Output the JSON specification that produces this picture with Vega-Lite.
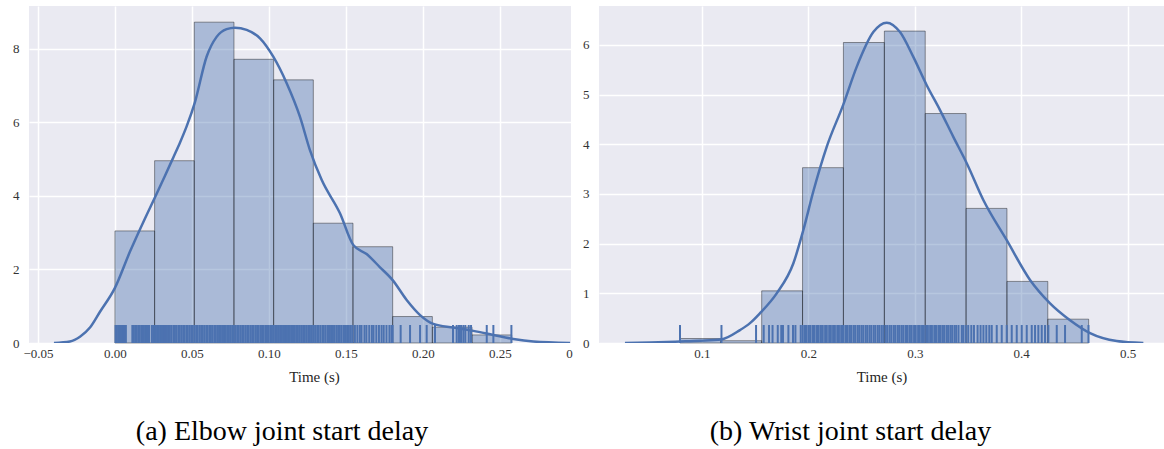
{
  "$schema": "https://vega.github.io/schema/vega-lite/v6.json",
  "background": "white",
  "padding": {"left": 12, "top": 6, "right": 0, "bottom": 0},
  "config": {
    "view": {"fill": "#EAEAF2", "stroke": null},
    "axis": {
      "domain": false,
      "ticks": false,
      "gridColor": "white",
      "gridWidth": 1.5,
      "labelFont": "Liberation Serif",
      "labelFontSize": 13,
      "labelColor": "#333333",
      "labelFlush": false,
      "labelOverlap": false,
      "titleFont": "Liberation Serif",
      "titleFontSize": 15,
      "titleFontWeight": "normal",
      "titleColor": "#262626"
    },
    "axisX": {"labelPadding": 4, "titlePadding": 9},
    "axisY": {"labelPadding": 10},
    "title": {
      "font": "Liberation Serif",
      "fontSize": 28,
      "fontWeight": "normal",
      "color": "black",
      "orient": "bottom",
      "anchor": "middle",
      "offset": 34
    }
  },
  "datasets": {
    "elbowBins": [
      {"lo": 0.0, "hi": 0.02576, "density": 3.05},
      {"lo": 0.02576, "hi": 0.05152, "density": 4.96},
      {"lo": 0.05152, "hi": 0.07728, "density": 8.73},
      {"lo": 0.07728, "hi": 0.10304, "density": 7.72},
      {"lo": 0.10304, "hi": 0.1288, "density": 7.16},
      {"lo": 0.1288, "hi": 0.15456, "density": 3.26},
      {"lo": 0.15456, "hi": 0.18032, "density": 2.62},
      {"lo": 0.18032, "hi": 0.20608, "density": 0.72},
      {"lo": 0.20608, "hi": 0.23184, "density": 0.43},
      {"lo": 0.23184, "hi": 0.2576, "density": 0.22}
    ],
    "elbowKde": [
      {"t": -0.0396, "density": 0.0},
      {"t": -0.0292, "density": 0.04},
      {"t": -0.0227, "density": 0.17},
      {"t": -0.0162, "density": 0.42},
      {"t": -0.0097, "density": 0.85},
      {"t": 0.0, "density": 1.5},
      {"t": 0.0097, "density": 2.48},
      {"t": 0.0195, "density": 3.39},
      {"t": 0.0264, "density": 4.0},
      {"t": 0.0325, "density": 4.55},
      {"t": 0.0379, "density": 5.05},
      {"t": 0.0422, "density": 5.45},
      {"t": 0.0466, "density": 5.9},
      {"t": 0.0519, "density": 6.55},
      {"t": 0.0595, "density": 7.79},
      {"t": 0.066, "density": 8.33},
      {"t": 0.0725, "density": 8.54},
      {"t": 0.0779, "density": 8.58},
      {"t": 0.0855, "density": 8.52},
      {"t": 0.0942, "density": 8.29},
      {"t": 0.1028, "density": 7.79},
      {"t": 0.1115, "density": 7.07},
      {"t": 0.1201, "density": 6.16},
      {"t": 0.1266, "density": 5.25},
      {"t": 0.1342, "density": 4.44},
      {"t": 0.1461, "density": 3.53},
      {"t": 0.1547, "density": 2.67},
      {"t": 0.1634, "density": 2.42},
      {"t": 0.1721, "density": 2.06},
      {"t": 0.1803, "density": 1.71},
      {"t": 0.1894, "density": 1.17},
      {"t": 0.1981, "density": 0.76},
      {"t": 0.2067, "density": 0.52},
      {"t": 0.2197, "density": 0.42},
      {"t": 0.2327, "density": 0.33},
      {"t": 0.2456, "density": 0.22},
      {"t": 0.2586, "density": 0.11},
      {"t": 0.2716, "density": 0.04},
      {"t": 0.2955, "density": 0.0}
    ],
    "elbowRug": [
      {"t": 0.0004}, {"t": 0.0012}, {"t": 0.0021}, {"t": 0.0031}, {"t": 0.0038}, {"t": 0.0046}, {"t": 0.0055}, {"t": 0.0062}, {"t": 0.0071},
      {"t": 0.0113}, {"t": 0.0121}, {"t": 0.0131}, {"t": 0.014},
      {"t": 0.0151}, {"t": 0.016}, {"t": 0.0171}, {"t": 0.0178}, {"t": 0.0187}, {"t": 0.0196}, {"t": 0.0206}, {"t": 0.0214}, {"t": 0.0221},
      {"t": 0.0239}, {"t": 0.0248}, {"t": 0.0256}, {"t": 0.0266}, {"t": 0.0275}, {"t": 0.0283}, {"t": 0.0293}, {"t": 0.0301}, {"t": 0.0312}, {"t": 0.032}, {"t": 0.0329}, {"t": 0.0336},
      {"t": 0.0345}, {"t": 0.0356}, {"t": 0.0366}, {"t": 0.0379}, {"t": 0.0389}, {"t": 0.0398}, {"t": 0.0411}, {"t": 0.042}, {"t": 0.0431}, {"t": 0.0443},
      {"t": 0.0452}, {"t": 0.0464}, {"t": 0.0473}, {"t": 0.0485}, {"t": 0.0496}, {"t": 0.0505}, {"t": 0.0517}, {"t": 0.0528}, {"t": 0.0537}, {"t": 0.0549},
      {"t": 0.056}, {"t": 0.057}, {"t": 0.0581}, {"t": 0.0593}, {"t": 0.0602}, {"t": 0.0614}, {"t": 0.0623}, {"t": 0.0634}, {"t": 0.0646}, {"t": 0.0655},
      {"t": 0.0667}, {"t": 0.0676}, {"t": 0.0688}, {"t": 0.0699}, {"t": 0.0708}, {"t": 0.072}, {"t": 0.0731}, {"t": 0.074}, {"t": 0.0752}, {"t": 0.0763},
      {"t": 0.0772}, {"t": 0.0784}, {"t": 0.0795}, {"t": 0.0804}, {"t": 0.0816}, {"t": 0.0827}, {"t": 0.0836}, {"t": 0.0848}, {"t": 0.0859}, {"t": 0.0868},
      {"t": 0.088}, {"t": 0.0891}, {"t": 0.09}, {"t": 0.0912}, {"t": 0.0923}, {"t": 0.0932}, {"t": 0.0944}, {"t": 0.0955}, {"t": 0.0964}, {"t": 0.0976},
      {"t": 0.0987}, {"t": 0.0996}, {"t": 0.1008}, {"t": 0.1019}, {"t": 0.1028}, {"t": 0.104}, {"t": 0.1051}, {"t": 0.106}, {"t": 0.1072}, {"t": 0.1083},
      {"t": 0.1092}, {"t": 0.1104}, {"t": 0.1115}, {"t": 0.1124}, {"t": 0.1136}, {"t": 0.1147}, {"t": 0.1156}, {"t": 0.1168}, {"t": 0.1179}, {"t": 0.1188}, {"t": 0.12},
      {"t": 0.1211}, {"t": 0.1222}, {"t": 0.1233}, {"t": 0.1245}, {"t": 0.1256}, {"t": 0.1266}, {"t": 0.1278}, {"t": 0.1289}, {"t": 0.13}, {"t": 0.1313},
      {"t": 0.1322}, {"t": 0.1334}, {"t": 0.1347}, {"t": 0.1356}, {"t": 0.1368}, {"t": 0.1381}, {"t": 0.139}, {"t": 0.1403}, {"t": 0.1415}, {"t": 0.1424},
      {"t": 0.1437}, {"t": 0.1449}, {"t": 0.146}, {"t": 0.1472}, {"t": 0.1485}, {"t": 0.1494}, {"t": 0.1507}, {"t": 0.1519}, {"t": 0.1531}, {"t": 0.1542},
      {"t": 0.1558}, {"t": 0.1574}, {"t": 0.159}, {"t": 0.1601}, {"t": 0.162}, {"t": 0.1633}, {"t": 0.1651}, {"t": 0.1668}, {"t": 0.1679}, {"t": 0.1697},
      {"t": 0.1714}, {"t": 0.1731}, {"t": 0.1745}, {"t": 0.1763}, {"t": 0.1782}, {"t": 0.1796},
      {"t": 0.1803}, {"t": 0.1855}, {"t": 0.1916}, {"t": 0.1981}, {"t": 0.2024}, {"t": 0.2078},
      {"t": 0.2195}, {"t": 0.2219}, {"t": 0.2234}, {"t": 0.2247}, {"t": 0.2262}, {"t": 0.2275}, {"t": 0.2297}, {"t": 0.2312},
      {"t": 0.2414}, {"t": 0.2457}, {"t": 0.2574}
    ],
    "wristBins": [
      {"lo": 0.0793, "hi": 0.1177, "density": 0.09},
      {"lo": 0.1177, "hi": 0.1561, "density": 0.046},
      {"lo": 0.1561, "hi": 0.1945, "density": 1.05},
      {"lo": 0.1945, "hi": 0.2329, "density": 3.53},
      {"lo": 0.2329, "hi": 0.2714, "density": 6.05},
      {"lo": 0.2714, "hi": 0.3098, "density": 6.28},
      {"lo": 0.3098, "hi": 0.3482, "density": 4.62},
      {"lo": 0.3482, "hi": 0.3866, "density": 2.71},
      {"lo": 0.3866, "hi": 0.425, "density": 1.24},
      {"lo": 0.425, "hi": 0.4634, "density": 0.48}
    ],
    "wristKde": [
      {"t": 0.0276, "density": 0.0},
      {"t": 0.0511, "density": 0.01},
      {"t": 0.0793, "density": 0.03},
      {"t": 0.0981, "density": 0.045},
      {"t": 0.1179, "density": 0.07},
      {"t": 0.1357, "density": 0.26},
      {"t": 0.1451, "density": 0.4},
      {"t": 0.1545, "density": 0.6},
      {"t": 0.1702, "density": 1.0},
      {"t": 0.1858, "density": 1.6},
      {"t": 0.1952, "density": 2.27},
      {"t": 0.2046, "density": 3.05},
      {"t": 0.2172, "density": 3.95},
      {"t": 0.2328, "density": 4.8},
      {"t": 0.2454, "density": 5.56},
      {"t": 0.261, "density": 6.26},
      {"t": 0.2736, "density": 6.45},
      {"t": 0.2861, "density": 6.26},
      {"t": 0.2986, "density": 5.76},
      {"t": 0.3112, "density": 5.19},
      {"t": 0.3237, "density": 4.69},
      {"t": 0.3362, "density": 4.15},
      {"t": 0.3488, "density": 3.62},
      {"t": 0.3644, "density": 2.88},
      {"t": 0.3864, "density": 2.07},
      {"t": 0.4083, "density": 1.27},
      {"t": 0.4271, "density": 0.8},
      {"t": 0.4459, "density": 0.46},
      {"t": 0.4647, "density": 0.2},
      {"t": 0.4898, "density": 0.04},
      {"t": 0.5148, "density": 0.0}
    ],
    "wristRug": [
      {"t": 0.0793}, {"t": 0.1183}, {"t": 0.1508}, {"t": 0.158}, {"t": 0.163}, {"t": 0.1663}, {"t": 0.1712}, {"t": 0.1745}, {"t": 0.1761}, {"t": 0.1812}, {"t": 0.1855}, {"t": 0.1878},
      {"t": 0.1928}, {"t": 0.1947}, {"t": 0.1968}, {"t": 0.1984}, {"t": 0.2005}, {"t": 0.2021}, {"t": 0.2043}, {"t": 0.2059}, {"t": 0.2081}, {"t": 0.2097},
      {"t": 0.2118}, {"t": 0.2135}, {"t": 0.2157}, {"t": 0.2173}, {"t": 0.2195}, {"t": 0.2211}, {"t": 0.2232}, {"t": 0.2249}, {"t": 0.2271}, {"t": 0.2287},
      {"t": 0.2308}, {"t": 0.2325}, {"t": 0.2347}, {"t": 0.2363}, {"t": 0.2384}, {"t": 0.2401}, {"t": 0.2423}, {"t": 0.2439}, {"t": 0.2461}, {"t": 0.2477},
      {"t": 0.2498}, {"t": 0.2515}, {"t": 0.2537}, {"t": 0.2553}, {"t": 0.2574}, {"t": 0.2591}, {"t": 0.2613}, {"t": 0.2629}, {"t": 0.2651}, {"t": 0.2667},
      {"t": 0.2688}, {"t": 0.2705}, {"t": 0.2727}, {"t": 0.2743}, {"t": 0.2764}, {"t": 0.2781}, {"t": 0.2803}, {"t": 0.2819}, {"t": 0.2841}, {"t": 0.2857},
      {"t": 0.2878}, {"t": 0.2895}, {"t": 0.2917}, {"t": 0.2933}, {"t": 0.2954}, {"t": 0.2971}, {"t": 0.2993}, {"t": 0.3009}, {"t": 0.3031}, {"t": 0.3047},
      {"t": 0.3068}, {"t": 0.3085}, {"t": 0.3107}, {"t": 0.3123}, {"t": 0.3144}, {"t": 0.3161}, {"t": 0.3183}, {"t": 0.3199}, {"t": 0.3221}, {"t": 0.3237},
      {"t": 0.3258}, {"t": 0.3275}, {"t": 0.3297}, {"t": 0.3313}, {"t": 0.3334}, {"t": 0.3351}, {"t": 0.3373}, {"t": 0.3389}, {"t": 0.3411}, {"t": 0.3441},
      {"t": 0.3455}, {"t": 0.3478}, {"t": 0.3502}, {"t": 0.3531}, {"t": 0.3556}, {"t": 0.359}, {"t": 0.3618}, {"t": 0.3645}, {"t": 0.3672}, {"t": 0.37},
      {"t": 0.3723}, {"t": 0.377}, {"t": 0.3817}, {"t": 0.3864}, {"t": 0.3911}, {"t": 0.3958}, {"t": 0.4005}, {"t": 0.4052}, {"t": 0.4099}, {"t": 0.413},
      {"t": 0.4161}, {"t": 0.4193}, {"t": 0.4224}, {"t": 0.4255}, {"t": 0.4334}, {"t": 0.4412}, {"t": 0.4569}, {"t": 0.4632}
    ]
  },
  "hconcat": [
    {
      "width": 542,
      "height": 337,
      "title": {"text": "(a) Elbow joint start delay", "dx": -18},
      "layer": [
        {
          "data": {"name": "elbowBins"},
          "mark": {"type": "rect", "fill": "#4C72B0", "fillOpacity": 0.4, "stroke": "black", "strokeOpacity": 0.4, "strokeWidth": 1},
          "encoding": {
            "x": {
              "field": "lo", "type": "quantitative", "title": "Time (s)",
              "scale": {"domain": [-0.0558, 0.2961], "nice": false, "zero": false},
              "axis": {
                "values": [-0.05, 0, 0.05, 0.1, 0.15, 0.2, 0.25, 0.2948],
                "labelExpr": "datum.value > 0.28 ? '0' : format(datum.value, '.2f')",
                "gridOpacity": {"condition": {"test": "datum.value > 0.28", "value": 0}, "value": 1},
                "titleX": 285
              }
            },
            "x2": {"field": "hi"},
            "y": {
              "field": "density", "type": "quantitative", "title": null,
              "scale": {"domain": [0, 9.17], "nice": false},
              "axis": {"values": [0, 2, 4, 6, 8]}
            },
            "y2": {"datum": 0}
          }
        },
        {
          "data": {"name": "elbowKde"},
          "mark": {"type": "line", "color": "#4C72B0", "strokeWidth": 2.5, "interpolate": "monotone", "clip": true},
          "encoding": {
            "x": {"field": "t", "type": "quantitative", "title": "Time (s)"},
            "y": {"field": "density", "type": "quantitative", "title": null}
          }
        },
        {
          "data": {"name": "elbowRug"},
          "mark": {"type": "rule", "color": "#4C72B0", "strokeWidth": 2},
          "encoding": {
            "x": {"field": "t", "type": "quantitative", "title": "Time (s)"},
            "y": {"datum": 0, "type": "quantitative"},
            "y2": {"datum": 0.49}
          }
        }
      ]
    },
    {
      "width": 565,
      "height": 337,
      "title": {"text": "(b) Wrist joint start delay", "dx": -31},
      "layer": [
        {
          "data": {"name": "wristBins"},
          "mark": {"type": "rect", "fill": "#4C72B0", "fillOpacity": 0.4, "stroke": "black", "strokeOpacity": 0.4, "strokeWidth": 1},
          "encoding": {
            "x": {
              "field": "lo", "type": "quantitative", "title": "Time (s)",
              "scale": {"domain": [0.0032, 0.5342], "nice": false, "zero": false},
              "axis": {"values": [0.1, 0.2, 0.3, 0.4, 0.5], "format": ".1f"}
            },
            "x2": {"field": "hi"},
            "y": {
              "field": "density", "type": "quantitative", "title": null,
              "scale": {"domain": [0, 6.785], "nice": false},
              "axis": {"values": [0, 1, 2, 3, 4, 5, 6]}
            },
            "y2": {"datum": 0}
          }
        },
        {
          "data": {"name": "wristKde"},
          "mark": {"type": "line", "color": "#4C72B0", "strokeWidth": 2.5, "interpolate": "monotone", "clip": true},
          "encoding": {
            "x": {"field": "t", "type": "quantitative", "title": "Time (s)"},
            "y": {"field": "density", "type": "quantitative", "title": null}
          }
        },
        {
          "data": {"name": "wristRug"},
          "mark": {"type": "rule", "color": "#4C72B0", "strokeWidth": 2},
          "encoding": {
            "x": {"field": "t", "type": "quantitative", "title": "Time (s)"},
            "y": {"datum": 0, "type": "quantitative"},
            "y2": {"datum": 0.362}
          }
        }
      ]
    }
  ],
  "spacing": 28,
  "bounds": "flush"
}
